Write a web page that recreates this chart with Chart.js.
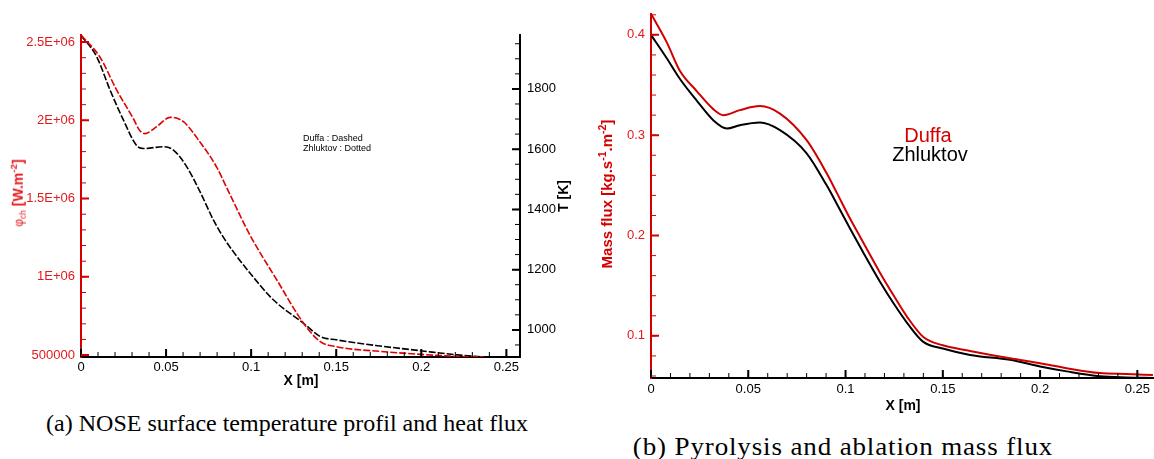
<!DOCTYPE html>
<html>
<head>
<meta charset="utf-8">
<script src="https://cdn.jsdelivr.net/npm/chart.js@4.4.1/dist/chart.umd.min.js"></script>
<style>
body { margin: 0; background: #fff; width: 1154px; height: 459px; position: relative; overflow: hidden; font-family: "Liberation Sans", Arial, sans-serif; }
.box { position: absolute; }
.t { position: absolute; white-space: nowrap; font-weight: bold; font-size: 14px; line-height: 1; transform: translate(-50%, -50%); }
.rot { transform: translate(-50%, -50%) rotate(-90deg); }
sub, sup { font-size: 70%; }
.cap { position: absolute; white-space: nowrap; font-family: "Liberation Serif", serif; font-size: 24px; line-height: 1; transform: translate(-50%, -50%); }
</style>
</head>
<body>
<div class="box" style="left:0;top:0;width:580px;height:400px"><canvas id="chartA" width="580" height="400"></canvas></div>
<div class="box" style="left:590px;top:0;width:564px;height:420px"><canvas id="chartB" width="564" height="420"></canvas></div>

<div class="t rot" style="left:18px;top:193px;color:#e3191c"><span style="font-weight:normal;font-size:12px">φ<sub>ch</sub></span> [W.m<sup>-2</sup>]</div>
<div class="t rot" style="left:563px;top:196px">T [K]</div>
<div class="t" style="left:301px;top:380px">X [m]</div>
<div class="t" style="left:303px;top:133px;font-weight:normal;font-size:9px;line-height:10px;transform:none">Duffa : Dashed<br>Zhluktov : Dotted</div>

<div class="t rot" style="left:605px;top:194px;color:#d40000;font-size:15px">Mass flux [kg.s<sup>-1</sup>.m<sup>-2</sup>]</div>
<div class="t" style="left:903px;top:405px">X [m]</div>
<div class="t" style="left:928px;top:135px;font-weight:normal;font-size:20px;color:#d40000">Duffa</div>
<div class="t" style="left:930px;top:154px;font-weight:normal;font-size:20px">Zhluktov</div>

<div class="cap" style="left:287px;top:423px">(a) NOSE surface temperature profil and heat flux</div>
<div class="cap" style="left:843px;top:446px;font-size:25px;letter-spacing:0.8px;transform:translate(-50%, -50%) scaleX(1.08)">(b) Pyrolysis and ablation mass flux</div>

<script>
// (a) heat flux (red, left axis) and surface temperature (black, right axis)
const heatFluxX = [0, 0.011, 0.021, 0.0308, 0.0345, 0.0375, 0.0445, 0.0524, 0.0602, 0.070, 0.0798, 0.0857, 0.0994, 0.1151, 0.1308, 0.1406, 0.150, 0.178, 0.1994, 0.221, 0.2367];
const heatFlux = [2545000, 2406000, 2193000, 2010000, 1935000, 1915000, 1960000, 2019000, 1991000, 1860000, 1700000, 1568000, 1265000, 980000, 704000, 586000, 554000, 522000, 505000, 492000, 488000];
const surfTempX = [0, 0.0092, 0.0171, 0.0249, 0.0327, 0.0367, 0.0484, 0.0543, 0.0621, 0.070, 0.0778, 0.0837, 0.0896, 0.0994, 0.113, 0.1308, 0.1406, 0.150, 0.178, 0.1994, 0.221, 0.2367];
const surfTemp = [1978, 1907, 1796, 1697, 1612, 1602, 1608, 1597, 1542, 1458, 1365, 1307, 1259, 1188, 1100, 1022, 978, 967, 945, 931, 917, 910];

// (b) mass flux
const massX = [0, 0.008, 0.0149, 0.0235, 0.032, 0.0372, 0.0457, 0.056, 0.0663, 0.080, 0.0903, 0.0954, 0.1023, 0.1074, 0.1177, 0.1245, 0.132, 0.140, 0.150, 0.164, 0.1845, 0.200, 0.2137, 0.2308, 0.2445, 0.258];
const massDuffa = [0.421, 0.393, 0.364, 0.344, 0.326, 0.320, 0.325, 0.329, 0.3215, 0.295, 0.262, 0.243, 0.217, 0.199, 0.163, 0.141, 0.118, 0.0988, 0.0906, 0.085, 0.0776, 0.0727, 0.0678, 0.0629, 0.062, 0.061];
const massZhlukX = [0, 0.008, 0.0149, 0.0235, 0.032, 0.039, 0.0457, 0.056, 0.0663, 0.080, 0.0903, 0.0954, 0.1023, 0.1074, 0.1177, 0.1245, 0.132, 0.140, 0.150, 0.164, 0.1845, 0.200, 0.2137, 0.2308, 0.2445, 0.258];
const massZhluk = [0.400, 0.377, 0.356, 0.3345, 0.315, 0.3067, 0.310, 0.3126, 0.305, 0.282, 0.250, 0.232, 0.207, 0.189, 0.154, 0.133, 0.112, 0.094, 0.0874, 0.081, 0.0761, 0.0695, 0.0646, 0.0597, 0.0585, 0.058];

// tick labels
const xTicks = [0, 0.05, 0.1, 0.15, 0.2, 0.25];
const xTickLabels = ['0', '0.05', '0.1', '0.15', '0.2', '0.25'];
const fluxTicks = [500000, 1000000, 1500000, 2000000, 2500000];
const fluxTickLabels = ['500000', '1E+06', '1.5E+06', '2E+06', '2.5E+06'];
const tempTicks = [1000, 1200, 1400, 1600, 1800];
const tempTickLabels = ['1000', '1200', '1400', '1600', '1800'];
const massTicks = [0.1, 0.2, 0.3, 0.4];
const massTickLabels = ['0.1', '0.2', '0.3', '0.4'];

const RED_AX = '#d40000';
const RED_TXT = '#e3191c';

function steps(from, to, step) {
    const out = [];
    for (let i = 0; from + i * step <= to + 1e-9; i++) out.push(Math.round((from + i * step) * 1e6) / 1e6);
    return out;
}
const pts = (xs, ys) => xs.map((x, i) => ({ x: x, y: ys[i] }));

// ticks drawn inside the plot area, like Tecplot
const inTicks = {
    id: 'inTicks',
    afterDraw(chart, args, opts) {
        const ctx = chart.ctx, a = chart.chartArea;
        Object.entries(opts.axes).forEach(([id, t]) => {
            const s = chart.scales[id];
            ctx.save();
            ctx.strokeStyle = t.color;
            const draw = (vals, len, w) => {
                ctx.lineWidth = w;
                ctx.beginPath();
                vals.forEach(v => {
                    const p = s.getPixelForValue(v);
                    if (s.isHorizontal()) { ctx.moveTo(p, a.bottom); ctx.lineTo(p, a.bottom - len); }
                    else if (s.position === 'left') { ctx.moveTo(a.left, p); ctx.lineTo(a.left + len, p); }
                    else { ctx.moveTo(a.right, p); ctx.lineTo(a.right - len, p); }
                });
                ctx.stroke();
            };
            draw(t.minor, 5, 1);
            draw(t.major, 8, 2);
            ctx.restore();
        });
    }
};

const tickFont = { family: 'Liberation Sans', size: 13 };

function xScale(max, height, pad) {
    return {
        type: 'linear', position: 'bottom', min: 0, max: max,
        afterFit: s => { s.height = height; },
        afterBuildTicks: s => { s.ticks = xTicks.map(v => ({ value: v })); },
        grid: { display: false, drawTicks: false },
        border: { display: true, color: '#000', width: 2 },
        ticks: { color: '#000', font: tickFont, padding: pad, maxRotation: 0, callback: (v, i) => xTickLabels[i] }
    };
}

new Chart(document.getElementById('chartA'), {
    type: 'line',
    data: {
        datasets: [
            { data: pts(heatFluxX, heatFlux), yAxisID: 'yFlux', borderColor: '#e00000', borderWidth: 1.6, borderDash: [7, 2], pointRadius: 0, cubicInterpolationMode: 'monotone' },
            { data: pts(surfTempX, surfTemp), yAxisID: 'yT', borderColor: '#000', borderWidth: 1.6, borderDash: [7, 2], pointRadius: 0, cubicInterpolationMode: 'monotone' }
        ]
    },
    options: {
        responsive: false, animation: false,
        layout: { padding: { top: 35, left: 0, right: 0, bottom: 0 } },
        plugins: {
            legend: { display: false }, tooltip: { enabled: false },
            inTicks: { axes: {
                x: { color: '#000', major: xTicks, minor: steps(0, 0.25, 0.01) },
                yFlux: { color: RED_AX, major: fluxTicks, minor: steps(500000, 2500000, 100000) },
                yT: { color: '#000', major: tempTicks, minor: steps(950, 1950, 50) }
            } }
        },
        scales: {
            x: xScale(0.258, 43, 3),
            yFlux: {
                type: 'linear', position: 'left', min: 488000, max: 2545000,
                afterFit: s => { s.width = 81; },
                afterBuildTicks: s => { s.ticks = fluxTicks.map(v => ({ value: v })); },
                grid: { display: false, drawTicks: false },
                border: { display: true, color: RED_AX, width: 2 },
                ticks: { color: RED_TXT, font: tickFont, padding: 6, callback: (v, i) => fluxTickLabels[i] }
            },
            yT: {
                type: 'linear', position: 'right', min: 910, max: 1979,
                afterFit: s => { s.width = 60; },
                afterBuildTicks: s => { s.ticks = tempTicks.map(v => ({ value: v })); },
                grid: { display: false, drawTicks: false },
                border: { display: true, color: '#000', width: 2 },
                ticks: { color: '#000', font: tickFont, padding: 7, callback: (v, i) => tempTickLabels[i] }
            }
        }
    },
    plugins: [inTicks]
});

new Chart(document.getElementById('chartB'), {
    type: 'line',
    data: {
        datasets: [
            { data: pts(massX, massDuffa), borderColor: '#d00000', borderWidth: 2, pointRadius: 0, cubicInterpolationMode: 'monotone' },
            { data: pts(massZhlukX, massZhluk), borderColor: '#000', borderWidth: 2, pointRadius: 0, cubicInterpolationMode: 'monotone' }
        ]
    },
    options: {
        responsive: false, animation: false,
        layout: { padding: { top: 8, left: 0, right: 0, bottom: 0 } },
        plugins: {
            legend: { display: false }, tooltip: { enabled: false },
            inTicks: { axes: {
                x: { color: '#000', major: xTicks, minor: steps(0, 0.25, 0.01) },
                y: { color: RED_AX, major: massTicks, minor: steps(0.06, 0.42, 0.02) }
            } }
        },
        scales: {
            x: xScale(0.2585, 42, 4),
            y: {
                type: 'linear', position: 'left', min: 0.058, max: 0.421,
                afterFit: s => { s.width = 61; },
                afterBuildTicks: s => { s.ticks = massTicks.map(v => ({ value: v })); },
                grid: { display: false, drawTicks: false },
                border: { display: true, color: RED_AX, width: 2 },
                ticks: { color: RED_TXT, font: tickFont, padding: 6, callback: (v, i) => massTickLabels[i] }
            }
        }
    },
    plugins: [inTicks]
});
</script>
</body>
</html>
